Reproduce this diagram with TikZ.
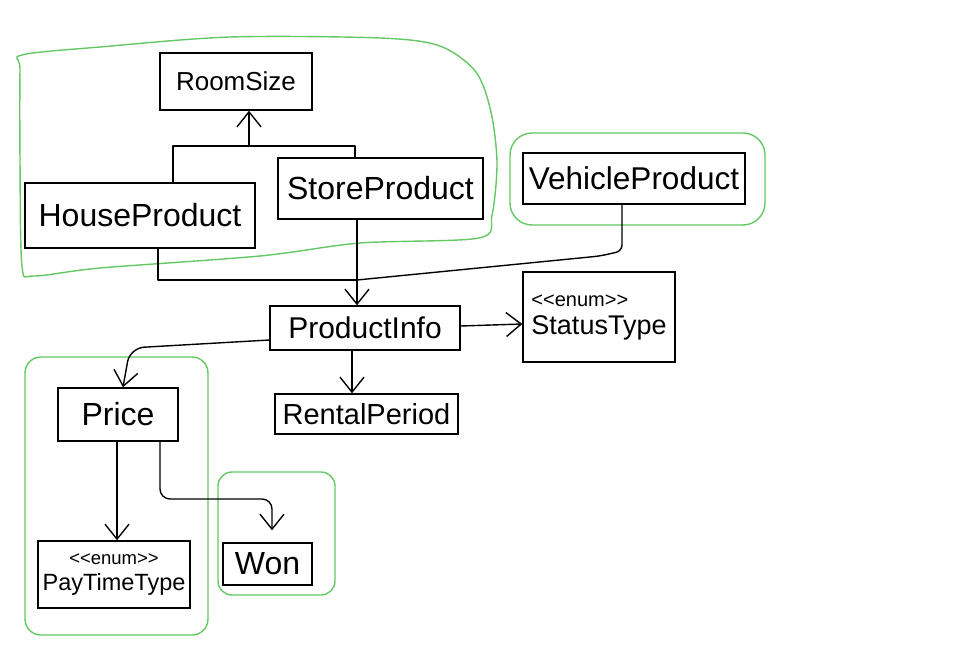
\documentclass[tikz,border=0pt]{standalone}
\usepackage{fontspec}
\setmainfont{Liberation Sans}[Ligatures={NoCommon}]
\usetikzlibrary{arrows.meta,calc}
\definecolor{grp}{RGB}{100,200,100}
\newcommand{\fsz}[1]{\fontsize{#1}{#1}\selectfont}
\newcommand{\enumtag}{{<}{<}enum{>}{>}}
\begin{document}
\begin{tikzpicture}[x=1pt,y=-1pt,
 box/.style={draw, line width=1.4pt, inner sep=0pt, align=center},
 conn/.style={line width=1.4pt, line join=round},
 arr/.style={conn, -{Straight Barb[length=15pt,width=24pt]}},
 grpline/.style={draw=grp, line width=1.4pt}]
\useasboundingbox (0,0) rectangle (960,658);
\fill[white] (0,0) rectangle (960,658);

% groups
\draw[grpline] plot[smooth cycle, tension=0.5] coordinates {(20,70) (22,55) (100,47) (230,37) (380,38) (440,46) (476,72) (491,112) (497,163) (492,215) (479,238) (360,243) (260,256) (100,268) (34,276) (22,266) (20,160)};
\draw[grpline, rounded corners=22] (510,133) rectangle (765,225);
\draw[grpline, rounded corners=16] (25,357) rectangle (208,635);
\draw[grpline, rounded corners=14] (218,472) rectangle (335,595);

% boxes
\node[box, minimum width=152, minimum height=57, font=\fsz{26}] (rs) at (236,81.5) {RoomSize};
\node[box, minimum width=230, minimum height=65, font=\fsz{32}] (hp) at (140,215.5) {\raisebox{-5pt}{HouseProduct}};
\node[box, minimum width=205, minimum height=61, font=\fsz{32}] (sp) at (380.5,188.5) {StoreProduct};
\node[box, minimum width=222, minimum height=51, font=\fsz{31.5}] (vp) at (634,178.5) {VehicleProduct};
\node[box, minimum width=190, minimum height=44, font=\fsz{30}] (pi) at (365,328) {ProductInfo};
\node[box, minimum width=152, minimum height=90, align=left] (st) at (599,317) {{\fsz{20}\enumtag}\\[8pt]{\fsz{27}StatusType}};
\node[box, minimum width=120, minimum height=53, font=\fsz{32}] (pr) at (118,414.5) {Price};
\node[box, minimum width=183, minimum height=40, font=\fsz{29}] (rp) at (366.5,414) {RentalPeriod};
\node[box, minimum width=152, minimum height=67] (pt) at (114,574.5) {{\fsz{18.5}\enumtag}\\[8pt]{\fsz{23.5}PayTimeType}};
\node[box, minimum width=89, minimum height=42, font=\fsz{32}] (wn) at (267.5,564) {Won};

% connectors
\coordinate (j1) at (249,146);
\draw[conn] (173,0 |- hp.north) -- (173,0 |- j1) -- (j1) -- (355,0 |- j1) -- (355,0 |- sp.north);
\draw[arr] (j1) -- (j1 |- rs.south);

\coordinate (j2) at (357,280);
\draw[conn] (158,0 |- hp.south) -- (158,0 |- j2) -- (j2);
\draw[conn, rounded corners=6] (622,0 |- vp.south) -- (622,251) -- (600,256) -- (j2);
\draw[arr] (357,0 |- sp.south) -- (357,0 |- pi.north);

\draw[arr] ($(pi.east)+(0,-2)$) -- ($(st.west)+(0,7)$);
\draw[arr, rounded corners=14] ($(pi.west)+(0,12)$) -- (130,348) -- (123,0 |- pr.north);
\draw[arr] (352,0 |- pi.south) -- (352,0 |- rp.north);
\draw[arr] (117,0 |- pr.south) -- (117,0 |- pt.north);
\draw[arr, rounded corners=10, shorten >=12pt] (160,0 |- pr.south) -- (160,499) -- (272,499) -- (272,0 |- wn.north);
\end{tikzpicture}
\end{document}
